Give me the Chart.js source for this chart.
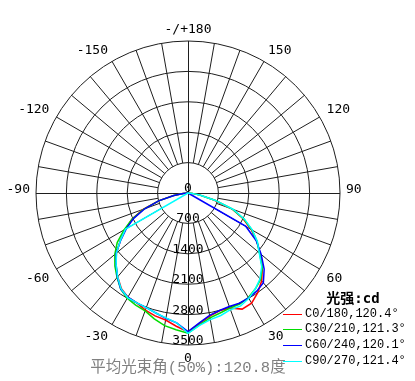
<!DOCTYPE html>
<html><head><meta charset="utf-8">
<script src="https://cdn.jsdelivr.net/npm/chart.js@4"></script>
<style>html,body{margin:0;padding:0;background:#fff;}#wrap{width:415px;height:381px;position:relative;}</style>
</head><body><div id="wrap"><canvas id="c"></canvas></div>
<script>
// gamma angles (deg), 0 = nadir, positive to the right
const angles = [-90,-85,-80,-75,-70,-65,-60,-55,-50,-45,-40,-35,-30,-25,-20,-15,-10,-5,0,5,10,15,20,25,30,35,40,45,50,55,60,65,70,75,80,85,90];
// luminous intensity (cd) per C-plane
const c0_180  = [0,120,350,700,1100,1420,1660,1900,2150,2350,2520,2680,2770,2790,2870,2930,2970,3080,3200,3020,2880,2810,2820,2950,2930,2800,2640,2420,2170,1930,1680,1400,1080,620,280,100,0];
const c30_210 = [0,110,330,700,1080,1420,1700,1990,2200,2380,2540,2700,2800,2850,2890,3000,3100,3160,3230,3050,2920,2860,2820,2820,2780,2700,2600,2420,2150,1940,1700,1420,1100,640,280,100,0];
const c60_240 = [0,110,330,700,1060,1380,1640,1890,2160,2340,2530,2700,2770,2790,2810,2860,2930,3000,3190,3000,2860,2800,2780,2800,2790,2760,2700,2480,2200,1920,1540,0,0,0,0,0,0];
const c90_270 = [0,0,0,0,0,0,1660,1900,2150,2340,2520,2690,2780,2790,2810,2860,2920,3000,3230,3060,2960,2920,2860,2870,2800,2700,2580,2400,2140,1950,1710,1440,1110,640,290,100,0];
const seriesNames = ['C0/180,120.4°','C30/210,121.3°','C60/240,120.1°','C90/270,121.4°'];
const radialTicks = [0,700,1400,2100,2800,3500];
const angleTickLabels = [0,30,60,90,120,150,180,-150,-120,-90,-60,-30];
const unitTitle = '光强:cd';
const beamTitle = '平均光束角(50%):120.8度';

const colors = ['#ff0000','#00dd00','#0000ff','#00ffff'];
const gridColor = '#1e1e1e';
const STEP = 5;
const labels = [];
for (let i = 0; i < 360 / STEP; i++) labels.push(180 - i * STEP);
function toRadar(vals) {
  return labels.map(a => { const k = angles.indexOf(a); return k >= 0 ? vals[k] : 0; });
}
const idxOf = a => (((180 - a) / STEP) % labels.length + labels.length) % labels.length;

const polarDecor = {
  id: 'polarDecor',
  beforeDatasetsDraw(chart) {
    const s = chart.scales.r, ctx = chart.ctx;
    ctx.save();
    ctx.strokeStyle = gridColor; ctx.lineWidth = 1;
    for (let a = -170; a <= 180; a += 10) {
      const i = idxOf(a);
      const full = (a % 90 === 0);
      const p0 = full ? {x: s.xCenter, y: s.yCenter} : s.getPointPositionForValue(i, radialTicks[1]);
      const p1 = s.getPointPositionForValue(i, s.max);
      let x0 = p0.x, y0 = p0.y, x1 = p1.x, y1 = p1.y;
      if (full) { if (Math.abs(x1 - x0) < 1) { x0 += 0.5; x1 += 0.5; } else { y0 += 0.5; y1 += 0.5; } }
      ctx.beginPath(); ctx.moveTo(x0, y0); ctx.lineTo(x1, y1); ctx.stroke();
    }
    ctx.fillStyle = '#000';
    ctx.font = '13px "DejaVu Sans Mono"';
    ctx.textAlign = 'center'; ctx.textBaseline = 'alphabetic';
    radialTicks.forEach(v => {
      const p = s.getPointPositionForValue(idxOf(0), v);
      ctx.fillText(String(v), p.x, p.y - 1);
    });
    angleTickLabels.forEach(a => {
      const sx = Math.sin(a * Math.PI / 180);
      const gap = Math.abs(Math.abs(sx) - 1) < 0.01 ? 6 : 8;
      const p = s.getPointPosition(idxOf(a), s.drawingArea + gap);
      ctx.textAlign = Math.abs(sx) < 0.01 ? 'center' : (sx > 0 ? 'left' : 'right');
      const lower = Math.abs(a) < 90;
      const txt = a === 180 ? '-/+180' : String(a);
      ctx.fillText(txt, p.x, lower ? p.y + 8.5 : p.y);
    });
    ctx.restore();
  },
  afterDraw(chart) {
    const s = chart.scales.r, ctx = chart.ctx;
    ctx.save();
    ctx.fillStyle = '#808080';
    ctx.font = '15.5px "Liberation Mono", "Noto Sans CJK SC"';
    ctx.textAlign = 'center'; ctx.textBaseline = 'middle';
    ctx.fillText(beamTitle, s.xCenter, 368);
    ctx.fillStyle = '#000';
    ctx.font = 'bold 14px "DejaVu Sans Mono", "Noto Sans CJK SC"';
    ctx.fillText(unitTitle, 353, 299);
    ctx.font = '12px "Liberation Mono"';
    ctx.textAlign = 'left';
    chart.data.datasets.forEach((d, k) => {
      const y = 313.5 + k * 15.8;
      ctx.strokeStyle = d.borderColor; ctx.lineWidth = 1;
      ctx.beginPath(); ctx.moveTo(283, Math.round(y) + 0.5); ctx.lineTo(302, Math.round(y) + 0.5); ctx.stroke();
      ctx.fillStyle = '#000';
      ctx.fillText(d.label, 305, y);
    });
    ctx.restore();
  }
};

const series = [c0_180, c30_210, c60_240, c90_270];
new Chart(document.getElementById('c'), {
  type: 'radar',
  data: {
    labels: labels,
    datasets: series.map((vals, k) => ({
      label: seriesNames[k],
      data: toRadar(vals),
      borderColor: colors[k],
      backgroundColor: colors[k],
      borderWidth: 1.5,
      pointRadius: 0,
      fill: false,
      tension: 0,
      order: series.length - 1 - k
    }))
  },
  options: {
    responsive: true,
    maintainAspectRatio: false,
    animation: false,
    layout: {padding: {left: 36, top: 41, right: 75, bottom: 36}},
    plugins: {legend: {display: false}, tooltip: {enabled: false}},
    scales: {
      r: {
        min: 0, max: 3500,
        startAngle: 0,
        ticks: {display: false, stepSize: 700},
        grid: {circular: true, color: gridColor, lineWidth: 1},
        angleLines: {display: false},
        pointLabels: {display: false}
      }
    }
  },
  plugins: [polarDecor]
});
</script></body></html>
